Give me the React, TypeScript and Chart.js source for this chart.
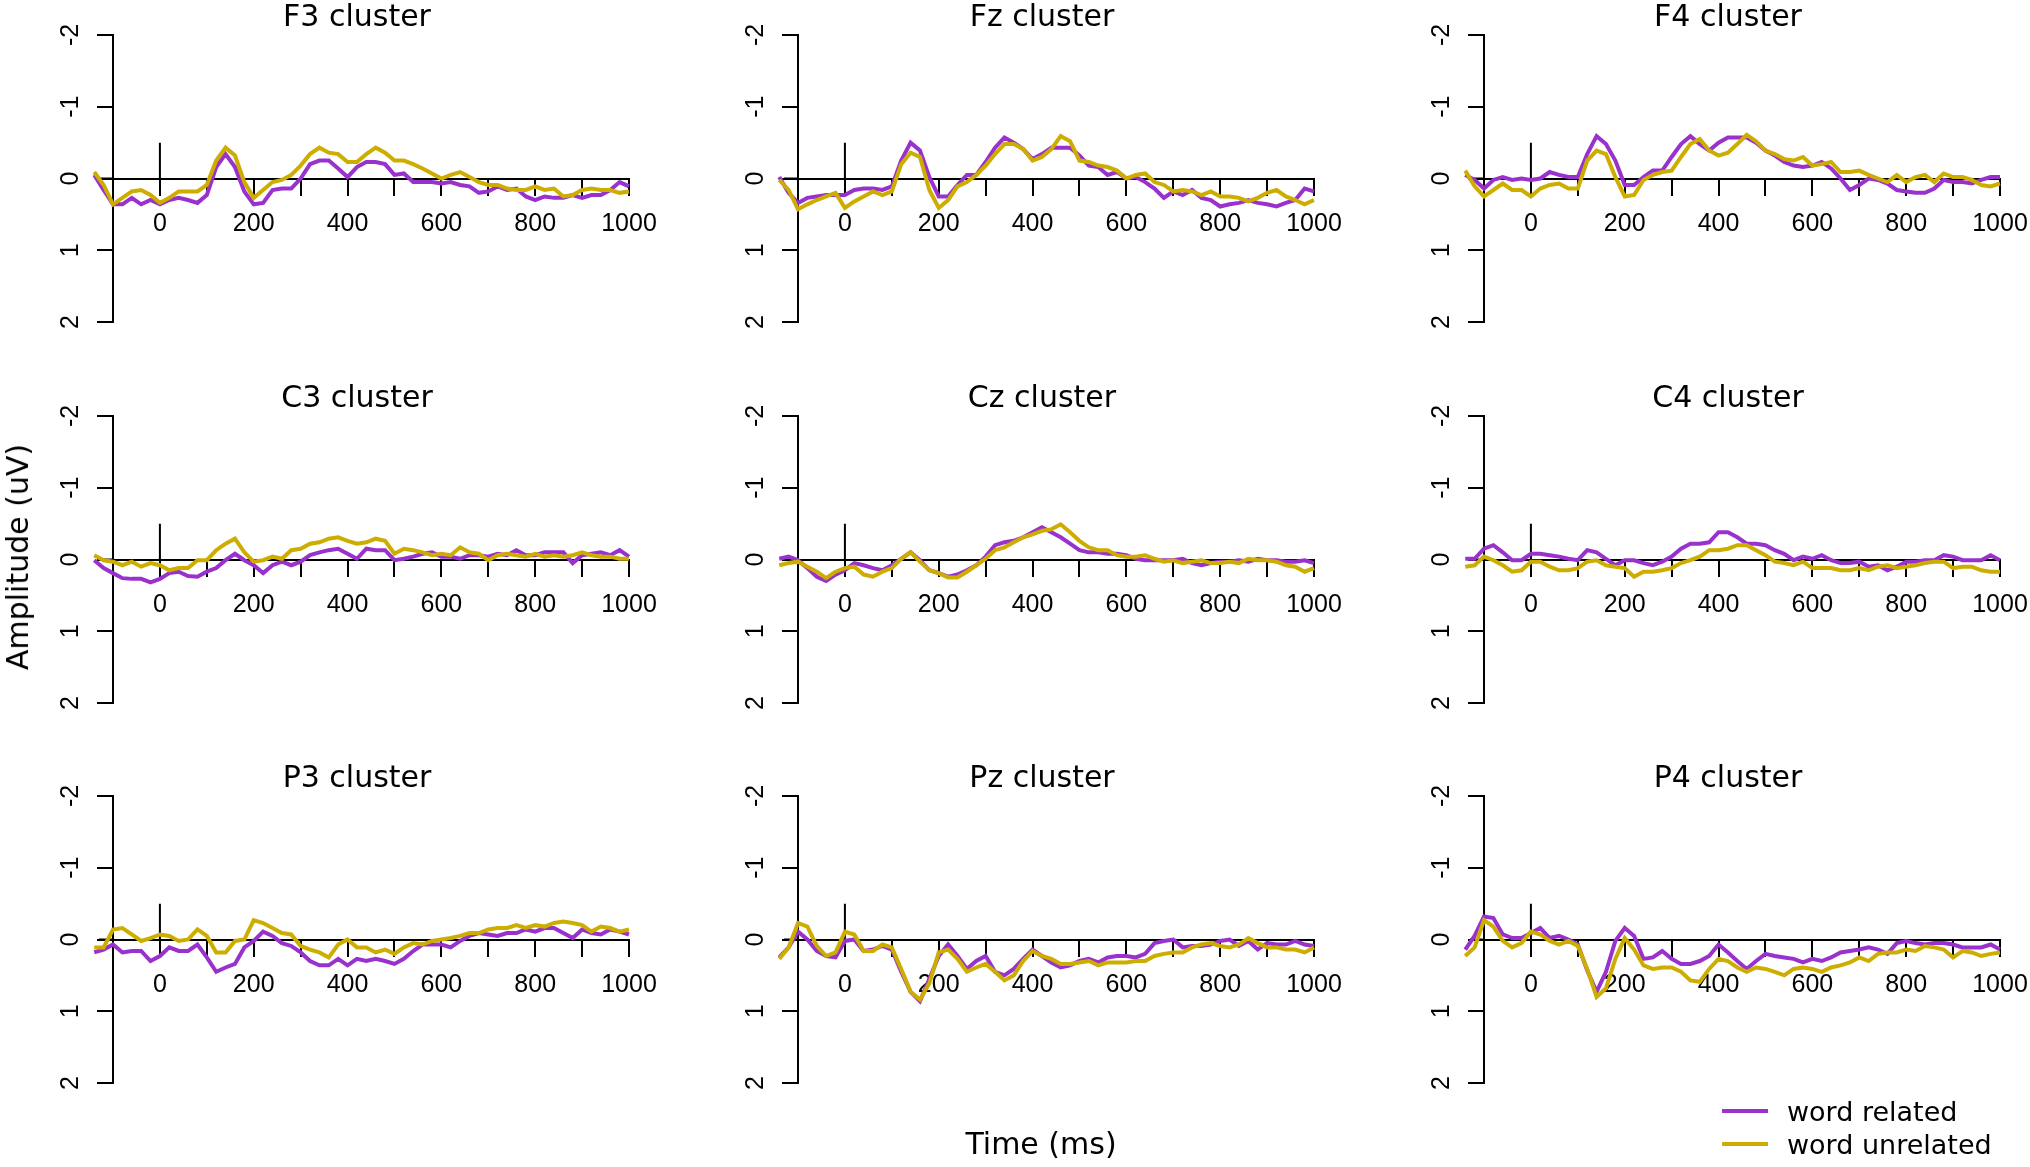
import React, { useEffect, useRef } from 'react';
import { Chart, registerables } from 'chart.js';

Chart.register(...registerables);

// ---------- data ----------
const times = [
  -140, -120, -100, -80, -60, -40, -20, 0, 20, 40,
  60, 80, 100, 120, 140, 160, 180, 200, 220, 240,
  260, 280, 300, 320, 340, 360, 380, 400, 420, 440,
  460, 480, 500, 520, 540, 560, 580, 600, 620, 640,
  660, 680, 700, 720, 740, 760, 780, 800, 820, 840,
  860, 880, 900, 920, 940, 960, 980, 1000,
];

const panelTitles = [
  'F3 cluster', 'Fz cluster', 'F4 cluster',
  'C3 cluster', 'Cz cluster', 'C4 cluster',
  'P3 cluster', 'Pz cluster', 'P4 cluster',
];

const seriesNames = ['word related', 'word unrelated'];

const F3_related = [
  -0.05, 0.16, 0.36, 0.36, 0.27, 0.36, 0.3, 0.36, 0.3, 0.27,
  0.3, 0.34, 0.23, -0.16, -0.34, -0.16, 0.18, 0.36, 0.34, 0.16,
  0.14, 0.14, 0, -0.2, -0.25, -0.25, -0.14, -0.02, -0.16, -0.23,
  -0.23, -0.2, -0.05, -0.07, 0.05, 0.05, 0.05, 0.07, 0.05, 0.09,
  0.11, 0.2, 0.18, 0.11, 0.16, 0.14, 0.25, 0.3, 0.25, 0.27,
  0.27, 0.23, 0.27, 0.23, 0.23, 0.16, 0.05, 0.11,
];
const F3_unrelated = [
  -0.09, 0.09, 0.36, 0.27, 0.18, 0.16, 0.23, 0.34, 0.27, 0.18,
  0.18, 0.18, 0.09, -0.25, -0.43, -0.32, 0.05, 0.27, 0.16, 0.05,
  0.02, -0.05, -0.18, -0.34, -0.43, -0.36, -0.34, -0.23, -0.23, -0.34,
  -0.43, -0.36, -0.25, -0.25, -0.2, -0.14, -0.07, 0, -0.05, -0.09,
  -0.02, 0.05, 0.09, 0.09, 0.14, 0.16, 0.16, 0.11, 0.16, 0.14,
  0.25, 0.23, 0.16, 0.14, 0.16, 0.16, 0.2, 0.18,
];
const Fz_related = [
  -0.02, 0.2, 0.34, 0.27, 0.25, 0.23, 0.23, 0.23, 0.16, 0.14,
  0.14, 0.16, 0.11, -0.25, -0.5, -0.39, -0.02, 0.25, 0.25, 0.09,
  -0.05, -0.05, -0.23, -0.43, -0.57, -0.5, -0.41, -0.27, -0.34, -0.43,
  -0.43, -0.43, -0.32, -0.18, -0.16, -0.05, -0.09, 0, -0.02, 0.05,
  0.14, 0.27, 0.18, 0.23, 0.16, 0.27, 0.3, 0.39, 0.36, 0.34,
  0.3, 0.34, 0.36, 0.39, 0.34, 0.3, 0.14, 0.18,
];
const Fz_unrelated = [
  0.02, 0.16, 0.43, 0.36, 0.3, 0.25, 0.2, 0.41, 0.32, 0.25,
  0.18, 0.23, 0.18, -0.2, -0.36, -0.3, 0.16, 0.41, 0.3, 0.11,
  0.05, -0.05, -0.18, -0.34, -0.48, -0.48, -0.41, -0.25, -0.3, -0.41,
  -0.59, -0.52, -0.25, -0.23, -0.18, -0.16, -0.11, 0, -0.05, -0.07,
  0.05, 0.09, 0.18, 0.16, 0.18, 0.23, 0.18, 0.25, 0.25, 0.27,
  0.32, 0.27, 0.2, 0.16, 0.25, 0.3, 0.36, 0.3,
];
const F4_related = [
  -0.05, 0.02, 0.14, 0.02, -0.02, 0.02, 0, 0.02, 0, -0.09,
  -0.05, -0.02, -0.02, -0.34, -0.59, -0.48, -0.25, 0.09, 0.09, -0.02,
  -0.11, -0.11, -0.3, -0.48, -0.59, -0.48, -0.39, -0.5, -0.57, -0.57,
  -0.57, -0.5, -0.39, -0.32, -0.23, -0.18, -0.16, -0.18, -0.23, -0.14,
  0, 0.16, 0.09, 0, 0.02, 0.07, 0.16, 0.18, 0.2, 0.2,
  0.14, 0.02, 0.05, 0.05, 0.07, 0.02, -0.02, -0.02,
];
const F4_unrelated = [
  -0.11, 0.11, 0.25, 0.16, 0.07, 0.16, 0.16, 0.25, 0.14, 0.09,
  0.07, 0.14, 0.14, -0.25, -0.39, -0.34, -0.02, 0.25, 0.23, 0.02,
  -0.05, -0.09, -0.11, -0.3, -0.48, -0.55, -0.39, -0.32, -0.36, -0.48,
  -0.61, -0.52, -0.39, -0.34, -0.27, -0.25, -0.3, -0.18, -0.2, -0.23,
  -0.09, -0.09, -0.11, -0.05, 0, 0.05, -0.05, 0.05, -0.02, -0.05,
  0.05, -0.07, -0.02, -0.02, 0.02, 0.09, 0.11, 0.07,
];
const C3_related = [
  0.01, 0.12, 0.19, 0.26, 0.27, 0.27, 0.32, 0.27, 0.19, 0.17,
  0.23, 0.24, 0.17, 0.12, 0.01, -0.08, 0.01, 0.08, 0.19, 0.08,
  0.03, 0.08, 0.03, -0.06, -0.1, -0.13, -0.15, -0.08, -0.01, -0.15,
  -0.13, -0.13, 0.01, -0.01, -0.04, -0.08, -0.1, -0.04, -0.04, -0.01,
  -0.06, -0.06, -0.04, -0.08, -0.06, -0.13, -0.06, -0.06, -0.1, -0.1,
  -0.1, 0.05, -0.06, -0.08, -0.1, -0.06, -0.13, -0.04,
];
const C3_unrelated = [
  -0.06, 0.01, 0.03, 0.08, 0.03, 0.1, 0.05, 0.08, 0.15, 0.12,
  0.12, 0.01, 0.01, -0.13, -0.22, -0.29, -0.1, 0.03, 0.01, -0.04,
  -0.01, -0.13, -0.15, -0.22, -0.24, -0.29, -0.31, -0.26, -0.22, -0.24,
  -0.29, -0.26, -0.08, -0.15, -0.13, -0.1, -0.06, -0.08, -0.06, -0.17,
  -0.1, -0.08, 0.01, -0.06, -0.08, -0.06, -0.04, -0.08, -0.04, -0.06,
  -0.04, -0.06, -0.1, -0.06, -0.04, -0.04, -0.01, -0.01,
];
const Cz_related = [
  -0.01, -0.04, 0.01, 0.12, 0.24, 0.3, 0.21, 0.15, 0.05, 0.08,
  0.12, 0.15, 0.08, -0.01, -0.1, 0.01, 0.15, 0.19, 0.24, 0.21,
  0.15, 0.08, -0.04, -0.2, -0.24, -0.26, -0.31, -0.38, -0.45, -0.38,
  -0.31, -0.22, -0.13, -0.1, -0.1, -0.08, -0.08, -0.06, -0.01, 0.01,
  0.01, 0.01, 0.01, -0.01, 0.05, 0.08, 0.05, 0.03, 0.03, 0.01,
  0.03, -0.01, 0.01, 0.01, 0.03, 0.03, 0.01, 0.05,
];
const Cz_unrelated = [
  0.08, 0.05, 0.03, 0.1, 0.17, 0.26, 0.17, 0.12, 0.1, 0.21,
  0.24, 0.17, 0.12, -0.01, -0.1, 0.03, 0.15, 0.19, 0.25, 0.25,
  0.17, 0.08, -0.01, -0.13, -0.17, -0.24, -0.31, -0.35, -0.4, -0.42,
  -0.49, -0.38, -0.26, -0.17, -0.13, -0.13, -0.06, -0.04, -0.04, -0.06,
  -0.01, 0.03, 0.01, 0.05, 0.03, 0.01, 0.05, 0.05, 0.03, 0.05,
  -0.01, 0.01, 0.01, 0.03, 0.08, 0.1, 0.17, 0.12,
];
const C4_related = [
  -0.01, -0.01, -0.15, -0.2, -0.1, 0.01, 0.01, -0.08, -0.08, -0.06,
  -0.04, -0.01, 0.01, -0.13, -0.1, -0.01, 0.08, 0.01, 0.01, 0.05,
  0.08, 0.03, -0.04, -0.15, -0.22, -0.22, -0.24, -0.38, -0.38, -0.31,
  -0.22, -0.22, -0.2, -0.13, -0.08, 0.01, -0.04, -0.01, -0.06, 0.01,
  0.05, 0.05, 0.03, 0.1, 0.08, 0.15, 0.1, 0.03, 0.03, 0.01,
  0.01, -0.06, -0.04, 0.01, 0.01, 0.01, -0.06, 0.01,
];
const C4_unrelated = [
  0.1, 0.08, -0.04, 0.01, 0.08, 0.17, 0.15, 0.03, 0.03, 0.1,
  0.15, 0.15, 0.12, 0.03, 0.01, 0.08, 0.1, 0.12, 0.24, 0.17,
  0.17, 0.15, 0.12, 0.05, 0.01, -0.04, -0.13, -0.13, -0.15, -0.2,
  -0.2, -0.13, -0.06, 0.03, 0.05, 0.08, 0.03, 0.12, 0.12, 0.12,
  0.15, 0.15, 0.12, 0.15, 0.1, 0.08, 0.12, 0.1, 0.08, 0.05,
  0.03, 0.03, 0.12, 0.1, 0.1, 0.15, 0.17, 0.17,
];
const P3_related = [
  0.18, 0.14, 0.07, 0.18, 0.16, 0.16, 0.3, 0.23, 0.11, 0.16,
  0.16, 0.07, 0.25, 0.45, 0.39, 0.34, 0.11, 0.02, -0.11, -0.05,
  0.05, 0.09, 0.18, 0.3, 0.36, 0.36, 0.27, 0.36, 0.27, 0.3,
  0.27, 0.3, 0.34, 0.27, 0.16, 0.07, 0.07, 0.07, 0.11, 0.02,
  -0.05, -0.09, -0.07, -0.05, -0.09, -0.09, -0.14, -0.11, -0.16, -0.16,
  -0.09, -0.02, -0.14, -0.09, -0.07, -0.14, -0.11, -0.07,
];
const P3_unrelated = [
  0.11, 0.11, -0.14, -0.16, -0.07, 0.02, -0.02, -0.07, -0.05, 0.02,
  0, -0.14, -0.05, 0.18, 0.18, 0.02, 0, -0.27, -0.23, -0.16,
  -0.09, -0.07, 0.09, 0.14, 0.18, 0.25, 0.07, 0, 0.11, 0.11,
  0.18, 0.14, 0.2, 0.11, 0.05, 0.07, 0.02, 0, -0.02, -0.05,
  -0.09, -0.09, -0.14, -0.16, -0.16, -0.2, -0.16, -0.2, -0.18, -0.23,
  -0.25, -0.23, -0.2, -0.11, -0.18, -0.16, -0.11, -0.14,
];
const Pz_related = [
  0.25, 0.11, -0.11, 0, 0.16, 0.23, 0.25, 0.02, 0, 0.16,
  0.14, 0.09, 0.14, 0.45, 0.73, 0.86, 0.55, 0.23, 0.07, 0.23,
  0.41, 0.3, 0.23, 0.45, 0.5, 0.41, 0.27, 0.14, 0.23, 0.32,
  0.39, 0.36, 0.3, 0.27, 0.32, 0.25, 0.23, 0.23, 0.25, 0.2,
  0.05, 0.02, 0, 0.11, 0.09, 0.09, 0.07, 0.02, 0, 0.09,
  0.02, 0.14, 0.05, 0.07, 0.07, 0.02, 0.07, 0.09,
];
const Pz_unrelated = [
  0.27, 0.11, -0.23, -0.18, 0.09, 0.23, 0.18, -0.11, -0.07, 0.16,
  0.16, 0.07, 0.11, 0.41, 0.73, 0.84, 0.61, 0.18, 0.14, 0.27,
  0.45, 0.39, 0.34, 0.45, 0.57, 0.5, 0.3, 0.16, 0.23, 0.27,
  0.34, 0.34, 0.32, 0.3, 0.36, 0.32, 0.32, 0.32, 0.3, 0.3,
  0.23, 0.2, 0.18, 0.18, 0.11, 0.07, 0.05, 0.09, 0.11, 0.07,
  -0.02, 0.05, 0.11, 0.11, 0.14, 0.14, 0.18, 0.11,
];
const P4_related = [
  0.14, -0.05, -0.32, -0.3, -0.07, -0.02, -0.02, -0.09, -0.16, -0.02,
  -0.05, 0, 0.07, 0.43, 0.73, 0.45, 0.02, -0.16, -0.05, 0.27,
  0.25, 0.16, 0.27, 0.34, 0.34, 0.3, 0.23, 0.07, 0.18, 0.3,
  0.41, 0.3, 0.2, 0.23, 0.25, 0.27, 0.32, 0.27, 0.3, 0.25,
  0.18, 0.16, 0.14, 0.11, 0.14, 0.2, 0.05, 0.02, 0.05, 0.07,
  0.05, 0.05, 0.07, 0.11, 0.11, 0.11, 0.07, 0.14,
];
const P4_unrelated = [
  0.23, 0.11, -0.27, -0.18, 0.02, 0.11, 0.05, -0.11, -0.07, 0.02,
  0.07, 0.02, 0.09, 0.41, 0.8, 0.68, 0.27, -0.02, 0.14, 0.36,
  0.41, 0.39, 0.39, 0.45, 0.57, 0.59, 0.41, 0.27, 0.3, 0.39,
  0.45, 0.39, 0.41, 0.45, 0.5, 0.41, 0.39, 0.41, 0.45, 0.39,
  0.36, 0.32, 0.25, 0.3, 0.2, 0.18, 0.18, 0.14, 0.16, 0.09,
  0.11, 0.14, 0.25, 0.16, 0.18, 0.23, 0.2, 0.18,
];

const relatedSeries = [
  F3_related, Fz_related, F4_related,
  C3_related, Cz_related, C4_related,
  P3_related, Pz_related, P4_related,
];
const unrelatedSeries = [
  F3_unrelated, Fz_unrelated, F4_unrelated,
  C3_unrelated, Cz_unrelated, C4_unrelated,
  P3_unrelated, Pz_unrelated, P4_unrelated,
];

const xTickValues = [-100, 0, 100, 200, 300, 400, 500, 600, 700, 800, 900, 1000];
const xTickLabels = [0, 200, 400, 600, 800, 1000];
const yTickValues = [-2, -1, 0, 1, 2];
const xRange = [-100, 1000];
const yRange = [-2, 2];
const onsetMarker = [-0.5, 0];
const xAxisLead = [-130, -100]; // part of the time axis drawn left of the amplitude axis

// ---------- style ----------
const PURPLE = '#9932CC';
const GOLD = '#CDAD00';
const TICK_FONT = { family: "'Liberation Sans', Arial, sans-serif", size: 25 };
const TEXT_FONT = "'DejaVu Sans', Verdana, sans-serif";

const CANVAS_W = 685;
const CANVAS_H = 381;
const colLefts = [0, 685, 1371];
const rowTops = [0, 381, 761];

// lets the y tick labels draw to the left of the (narrow) y scale box
const yLabelRoom = {
  id: 'yLabelRoom',
  afterLayout(chart: any) {
    const y = chart.scales.y;
    if (y) y.left = 0;
  },
};

function Panel({ index }: { index: number }) {
  const ref = useRef<HTMLCanvasElement>(null);
  useEffect(() => {
    const related = relatedSeries[index];
    const unrelated = unrelatedSeries[index];
    const chart = new Chart(ref.current as HTMLCanvasElement, {
      type: 'line',
      data: {
        datasets: [
          {
            label: seriesNames[0],
            data: times.map((t, i) => ({ x: t, y: related[i] })),
            borderColor: PURPLE,
            backgroundColor: PURPLE,
            borderWidth: 4,
            pointRadius: 0,
            tension: 0,
            clip: false,
            order: 2,
          },
          {
            label: seriesNames[1],
            data: times.map((t, i) => ({ x: t, y: unrelated[i] })),
            borderColor: GOLD,
            backgroundColor: GOLD,
            borderWidth: 4,
            pointRadius: 0,
            tension: 0,
            clip: false,
            order: 1,
          },
          {
            label: 'onset',
            data: onsetMarker.map((v) => ({ x: 0, y: v })),
            borderColor: '#000',
            borderWidth: 2,
            pointRadius: 0,
            clip: false,
            order: 3,
          },
          {
            label: 'axis lead',
            data: xAxisLead.map((t) => ({ x: t, y: 0 })),
            borderColor: '#000',
            borderWidth: 2,
            pointRadius: 0,
            clip: false,
            order: 4,
          },
        ],
      },
      options: {
        animation: false,
        responsive: false,
        events: [],
        layout: { padding: { left: 85, right: 56, top: 0, bottom: 59 } },
        plugins: {
          legend: { display: false },
          tooltip: { enabled: false },
          title: {
            display: true,
            text: panelTitles[index],
            color: '#000',
            font: { family: TEXT_FONT, size: 30, weight: 'normal', lineHeight: 34 / 30 },
            padding: { top: 1, bottom: 0 },
          },
        },
        scales: {
          x: {
            type: 'linear',
            position: { y: 0 },
            bounds: 'data',
            afterDataLimits: (s: any) => {
              s.min = xRange[0];
              s.max = xRange[1];
            },
            afterBuildTicks: (s: any) => {
              s.ticks = xTickValues.map((v) => ({ value: v }));
            },
            ticks: {
              autoSkip: false,
              minRotation: 0,
              maxRotation: 0,
              padding: 15,
              color: '#000',
              font: TICK_FONT,
              callback: (v: any) => (xTickLabels.includes(Number(v)) ? String(v) : ''),
            },
            grid: { drawOnChartArea: false, drawTicks: true, tickLength: 16, color: '#000', lineWidth: 2 },
            border: { display: true, color: '#000', width: 2 },
          },
          y: {
            type: 'linear',
            position: 'left',
            reverse: true,
            min: yRange[0],
            max: yRange[1],
            afterFit: (s: any) => {
              s.width = 28;
            },
            afterBuildTicks: (s: any) => {
              s.ticks = yTickValues.map((v) => ({ value: v }));
            },
            ticks: {
              autoSkip: false,
              minRotation: 90,
              maxRotation: 90,
              crossAlign: 'center',
              padding: 15,
              color: '#000',
              font: TICK_FONT,
              callback: (v: any) => String(v),
            },
            grid: { drawOnChartArea: false, drawTicks: true, tickLength: 16, color: '#000', lineWidth: 2 },
            border: { display: true, color: '#000', width: 2 },
          },
        },
      } as any,
      plugins: [yLabelRoom],
    });
    return () => chart.destroy();
  }, [index]);

  const col = index % 3;
  const row = Math.floor(index / 3);
  return (
    <canvas
      ref={ref}
      width={CANVAS_W}
      height={CANVAS_H}
      style={{
        position: 'absolute',
        left: colLefts[col],
        top: rowTops[row],
        width: CANVAS_W,
        height: CANVAS_H,
      }}
    />
  );
}

export default function App() {
  const legendRows = [
    { name: seriesNames[0], color: PURPLE, y: 1111 },
    { name: seriesNames[1], color: GOLD, y: 1144 },
  ];
  return (
    <div
      style={{
        position: 'absolute',
        left: 0,
        top: 0,
        width: 2030,
        height: 1167,
        background: '#fff',
        overflow: 'hidden',
        fontFamily: TEXT_FONT,
        color: '#000',
      }}
    >
      {panelTitles.map((_, i) => (
        <Panel key={i} index={i} />
      ))}
      <div
        style={{
          position: 'absolute',
          left: 18,
          top: 557,
          transform: 'translate(-50%, -50%) rotate(-90deg)',
          fontSize: 30,
          whiteSpace: 'nowrap',
          lineHeight: 1,
        }}
      >
        Amplitude (uV)
      </div>
      <div
        style={{
          position: 'absolute',
          left: 1041,
          top: 1144,
          transform: 'translate(-50%, -50%)',
          fontSize: 30,
          whiteSpace: 'nowrap',
          lineHeight: 1,
        }}
      >
        Time (ms)
      </div>
      {legendRows.map((r) => (
        <React.Fragment key={r.name}>
          <div
            style={{
              position: 'absolute',
              left: 1722,
              top: r.y - 2,
              width: 46,
              height: 4,
              background: r.color,
            }}
          />
          <div
            style={{
              position: 'absolute',
              left: 1787,
              top: r.y,
              transform: 'translateY(-50%)',
              fontSize: 27,
              whiteSpace: 'nowrap',
              lineHeight: 1,
            }}
          >
            {r.name}
          </div>
        </React.Fragment>
      ))}
    </div>
  );
}
